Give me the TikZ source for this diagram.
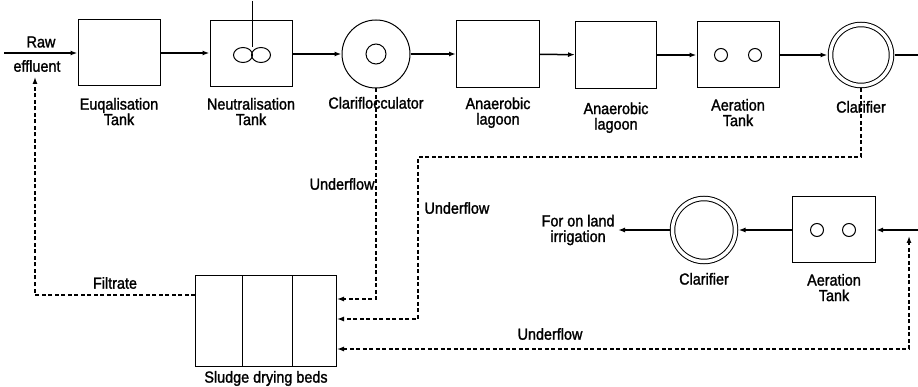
\documentclass[tikz,border=0pt]{standalone}
\usepackage{fontspec}
\setmainfont{Liberation Sans}[FakeStretch=0.9, FakeBold=1.5]
\usetikzlibrary{positioning, arrows.meta}

\begin{document}
\begin{tikzpicture}[x=1pt, y=-1pt, >={Latex[length=7pt,width=5pt]},
    line width=1pt, node distance=10pt,
    tank/.style={draw, rectangle, minimum width=82pt, minimum height=66pt, inner sep=0pt},
    clarif/.style={draw, circle, double, double distance=3.5pt, minimum size=61pt,
                   inner sep=0pt, outer sep=3pt},
    flocc/.style={draw, circle, minimum size=68pt, inner sep=0pt},
    lbl/.style={font=\fontsize{16}{15.5}\selectfont, align=center, inner sep=0pt},
    flow/.style={->, line width=1.5pt},
    sludge/.style={->, dash pattern=on 4pt off 2.5pt, line width=1.3pt}]
    \useasboundingbox (0,0) rectangle (918,387);

    % Main line
    \node[tank]                                        (eq)   at (119,53) {};
    \node[tank]                                        (neu)  at (251,54) {};
    \node[flocc]                                       (cf)   at (376,54) {};
    \node[tank, minimum width=83pt, minimum height=67pt] (lag1) at (498,54) {};
    \node[tank, minimum width=81pt, minimum height=67pt] (lag2) at (616,55) {};
    \node[tank]                                        (aer1) at (738,55) {};
    \node[clarif]                                      (cl1)  at (861,55) {};

    % Second line
    \node[tank, minimum width=83pt]                    (aer2) at (834,230) {};
    \node[clarif, minimum size=63pt]                   (cl2)  at (704,230) {};
    \node[draw, rectangle, minimum width=141pt, minimum height=90pt,
          inner sep=0pt]                               (beds) at (266,321) {};

    % Insides
    \draw (252,1) -- (252,47);
    \draw (243,55) ellipse [x radius=9.5, y radius=7.5];
    \draw (261,55) ellipse [x radius=9.5, y radius=7.5];
    \draw (cf) circle [radius=10];
    \draw ([xshift=-17pt]aer1.center) circle [radius=6.5];
    \draw ([xshift=17pt]aer1.center) circle [radius=6.5];
    \draw ([xshift=-17pt]aer2.center) circle [radius=6.5];
    \draw ([xshift=15pt]aer2.center) circle [radius=6.5];
    \foreach \dx in {-24,26}
      \draw ([xshift=\dx pt]beds.north) -- ([xshift=\dx pt]beds.south);

    % Labels
    \node[lbl] (raw)  at (41,42) {Raw};
    \node[lbl] (effl) at (37,66) {effluent};
    \node[lbl, below=11pt of eq]   (eqL)   {Euqalisation\\Tank};
    \node[lbl, below=10pt of neu]  (neuL)  {Neutralisation\\Tank};
    \node[lbl, below=8pt of cf]    (cfL)   {Clariflocculator};
    \node[lbl, below=9pt of lag1]  (lag1L) {Anaerobic\\lagoon};
    \node[lbl, below=13pt of lag2] (lag2L) {Anaerobic\\lagoon};
    \node[lbl, below=10pt of aer1] (aer1L) {Aeration\\Tank};
    \node[lbl, below=12pt of cl1]  (cl1L)  {Clarifier};
    \node[lbl, below=10pt of aer2] (aer2L) {Aeration\\Tank};
    \node[lbl, below=8pt of cl2]   (cl2L)  {Clarifier};
    \node[lbl, below=4pt of beds]  (bedsL) {Sludge drying beds};
    \node[lbl, anchor=east, inner sep=3pt] (irr) at (618,230) {For on land\\irrigation};
    \node[lbl] (filt) at (115,283) {Filtrate};
    \node[lbl, anchor=east] (uf1) at (375,184) {Underflow};
    \node[lbl, anchor=west] (uf2) at (424,208) {Underflow};
    \node[lbl] (uf3) at (550,334) {Underflow};

    % Flow
    \coordinate (src)  at (4,53);
    \coordinate (out1) at (918,55);
    \coordinate (in2)  at (918,230);
    \coordinate (ret)  at (909,230);
    \coordinate (k1)   at (418,157);
    \coordinate (fb)   at (35,77);
    \draw[flow] (src) -- (eq);
    \draw[flow] (eq) -- (eq -| neu.west);
    \draw[flow] (neu) -- (cf);
    \draw[flow] (cf) -- (lag1);
    \draw[flow] (lag1) -- (lag2);
    \draw[flow] (lag2) -- (aer1);
    \draw[flow] (aer1) -- (cl1);
    \draw[flow, -] (cl1) -- (out1);
    \draw[flow] (in2) -- (aer2);
    \draw[flow] (aer2) -- (cl2);
    \draw[flow] (cl2) -- (irr);

    % Sludge and filtrate
    \draw[sludge] (cf.south) |- ([yshift=22pt]beds.east);
    \draw[sludge] (cl1.south) |- (k1) |- ([yshift=2pt]beds.east);
    \draw[sludge, <->] ([yshift=-28pt]beds.east) -| ([yshift=-6pt]ret);
    \draw[sludge] ([yshift=26pt]beds.west) -| (fb);
\end{tikzpicture}
\end{document}
